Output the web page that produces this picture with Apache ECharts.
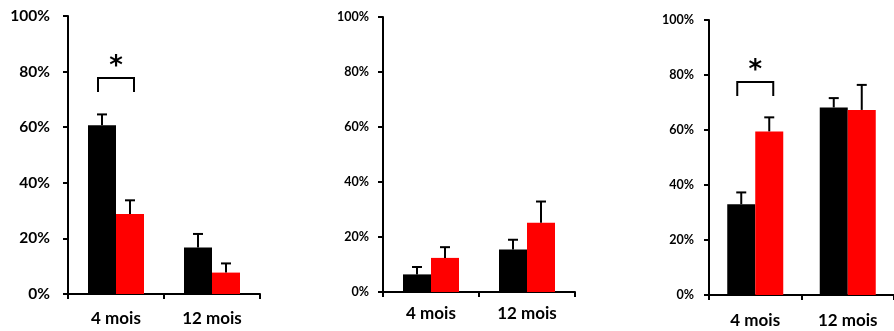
<!DOCTYPE html>
<html>
<head>
<meta charset="utf-8">
<script src="https://cdn.jsdelivr.net/npm/echarts@6/dist/echarts.min.js"></script>
<style>html,body{margin:0;padding:0;background:#fff}#c{width:894px;height:331px}</style>
</head>
<body>
<div id="c"></div>
<script>
// ---- data ----
var categories = ['4 mois', '12 mois'];
var yTicks = [0, 20, 40, 60, 80, 100];

var p1Black = [60.7, 16.7];
var p1BlackSem = [3.9, 4.9];
var p1Red = [28.8, 7.7];
var p1RedSem = [4.9, 3.3];

var p2Black = [6.4, 15.5];
var p2BlackSem = [2.7, 3.5];
var p2Red = [12.4, 25.2];
var p2RedSem = [3.9, 7.7];

var p3Black = [33.0, 68.2];
var p3BlackSem = [4.3, 3.4];
var p3Red = [59.5, 67.3];
var p3RedSem = [5.1, 9.1];

// significance brackets: [categoryIndex, legLow, top, starLevel]
var p1Sig = [[0, 72.7, 77.7, 84]];
var p3Sig = [[0, 72.4, 77.5, 84]];

// ---- chart ----
var FONT = 'Lato, "Open Sans", sans-serif';
var grids = [
  {left: 68, top: 16, width: 192, height: 278, yFont: 15.5, yMargin: 18, xMargin: 16},
  {left: 383, top: 17, width: 192, height: 275, yFont: 12.5, yMargin: 14, xMargin: 13},
  {left: 709, top: 20, width: 192, height: 275, yFont: 12.5, yMargin: 15, xMargin: 17}
];

function errItem(offset) {
  return function (params, api) {
    var i = api.value(0), v = api.value(1), e = api.value(2);
    var a = api.coord([i, v]), b = api.coord([i, v + e]);
    var x = a[0] + offset;
    return {type: 'group', children: [
      {type: 'line', shape: {x1: x, y1: a[1], x2: x, y2: b[1]}, style: {stroke: '#000', lineWidth: 2}},
      {type: 'line', shape: {x1: x - 5, y1: b[1], x2: x + 5, y2: b[1]}, style: {stroke: '#000', lineWidth: 2}}
    ]};
  };
}
function sigItem(params, api) {
  var i = api.value(0);
  var lo = api.coord([i, api.value(1)]), hi = api.coord([i, api.value(2)]), st = api.coord([i, api.value(3)]);
  var cx = lo[0];
  return {type: 'group', children: [
    {type: 'polyline', shape: {points: [[cx - 18, lo[1]], [cx - 18, hi[1]], [cx + 18, hi[1]], [cx + 18, lo[1]]]},
     style: {stroke: '#000', lineWidth: 2, fill: null}},
    {type: 'text', x: cx, y: st[1] + 7, style: {text: '*', fill: '#000', font: 'bold 26px "DejaVu Sans"', textAlign: 'center', textVerticalAlign: 'middle'}}
  ]};
}

var option = {animation: false, grid: [], xAxis: [], yAxis: [], series: []};
var panels = [
  [p1Black, p1BlackSem, p1Red, p1RedSem, p1Sig],
  [p2Black, p2BlackSem, p2Red, p2RedSem, null],
  [p3Black, p3BlackSem, p3Red, p3RedSem, p3Sig]
];
grids.forEach(function (g, k) {
  option.grid.push({left: g.left, top: g.top, width: g.width, height: g.height, containLabel: false});
  option.xAxis.push({
    type: 'category', gridIndex: k, data: categories,
    axisLine: {lineStyle: {color: '#000', width: 2}},
    axisTick: {show: true, length: 5, lineStyle: {color: '#000', width: 2}},
    axisLabel: {color: '#000', fontFamily: FONT, fontWeight: 'bold', fontSize: 17, margin: g.xMargin}
  });
  option.yAxis.push({
    type: 'value', gridIndex: k, min: yTicks[0], max: yTicks[yTicks.length - 1], interval: yTicks[1] - yTicks[0],
    axisLine: {show: true, lineStyle: {color: '#000', width: 2}},
    axisTick: {show: true, length: 5, lineStyle: {color: '#000', width: 2}},
    splitLine: {show: false},
    axisLabel: {color: '#000', fontFamily: FONT, fontWeight: 'bold', fontSize: g.yFont, margin: g.yMargin, formatter: '{value}%'}
  });
  var p = panels[k];
  option.series.push(
    {type: 'bar', xAxisIndex: k, yAxisIndex: k, data: p[0], barWidth: 28, barGap: '0%', itemStyle: {color: '#000000'}},
    {type: 'bar', xAxisIndex: k, yAxisIndex: k, data: p[2], barWidth: 28, barGap: '0%', itemStyle: {color: '#ff0000'}},
    {type: 'custom', xAxisIndex: k, yAxisIndex: k, renderItem: errItem(-14), z: 5,
     data: categories.map(function (c, i) { return [i, p[0][i], p[1][i]]; })},
    {type: 'custom', xAxisIndex: k, yAxisIndex: k, renderItem: errItem(14), z: 5,
     data: categories.map(function (c, i) { return [i, p[2][i], p[3][i]]; })}
  );
  if (p[4]) {
    option.series.push({type: 'custom', xAxisIndex: k, yAxisIndex: k, renderItem: sigItem, z: 6, clip: false, data: p[4]});
  }
});

var chart = echarts.init(document.getElementById('c'), null, {renderer: 'canvas'});
chart.setOption(option);
</script>
</body>
</html>
